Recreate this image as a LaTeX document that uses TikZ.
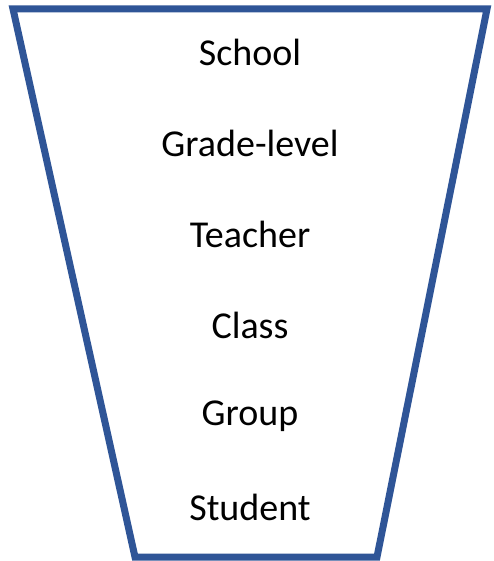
\documentclass[tikz,border=0pt]{standalone}
\usepackage{fontspec}
\setmainfont{Carlito}
\definecolor{funnelblue}{RGB}{47,85,151}
\begin{document}
\begin{tikzpicture}[x=1pt,y=-1pt,
  lvl/.style={font=\fontsize{38}{45}\selectfont, text=black, inner sep=0pt, anchor=center}]
\useasboundingbox (0,0) rectangle (493,561);
\coordinate (tl) at (13,9);
\coordinate (tr) at (487,9);
\coordinate (br) at (377,557);
\coordinate (bl) at (135,557);
\draw[funnelblue, line width=7pt, line join=miter] (tl) -- (tr) -- (br) -- (bl) -- cycle;
\node[lvl] (school) at (250,52) {School};
\node[lvl] (grade) at (250,143) {Grade-level};
\node[lvl] (teacher) at (250,234) {Teacher};
\node[lvl] (class) at (250,325) {Class};
\node[lvl] (group) at (250,416) {Group};
\node[lvl] (student) at (250,507) {Student};
\end{tikzpicture}
\end{document}
